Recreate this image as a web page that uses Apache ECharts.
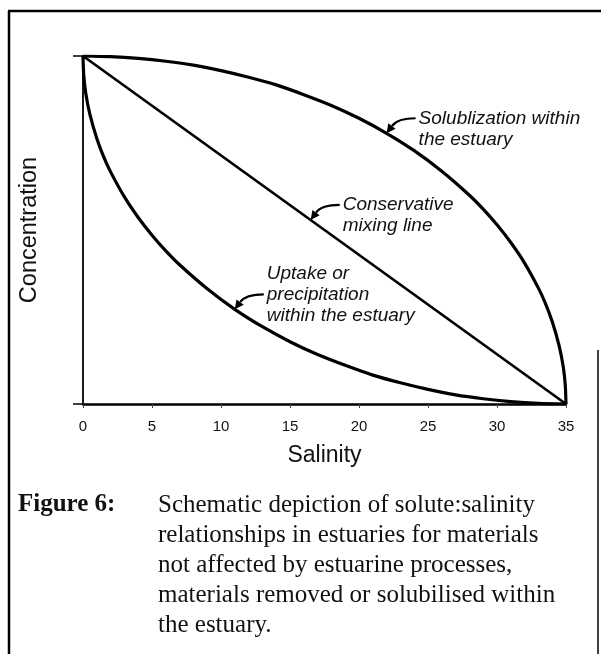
<!DOCTYPE html>
<html>
<head>
<meta charset="utf-8">
<script src="https://cdn.jsdelivr.net/npm/echarts@6/dist/echarts.min.js"></script>
<style>
  html, body { margin: 0; padding: 0; background: #fff; }
  #chart { width: 601px; height: 654px; }
</style>
</head>
<body>
<div id="chart"></div>
<script>
// salinity axis
const salinityMin = 0;
const salinityMax = 35;
const salinityStep = 5;

// conservative mixing line: river end member -> sea end member
const mixingSalinity = [0, 35];
const mixingConc = [100, 0];

// solubilization within the estuary (curve above the mixing line)
const upperSalinity = [0, 2, 4, 6, 8, 10, 12, 14, 16, 18, 20, 22, 24, 26, 28, 29, 30, 31, 32, 33, 33.5, 34, 34.5, 34.8, 34.95, 35];
const upperConc = [100, 99.8, 99.3, 98.5, 97.4, 95.8, 93.9, 91.7, 88.9, 85.8, 82.1, 77.8, 72.8, 66.9, 60.0, 56.0, 51.5, 46.4, 40.5, 33.3, 29.0, 23.7, 16.8, 10.7, 5.3, 0];

// uptake or precipitation within the estuary (curve below the mixing line)
const lowerSalinity = [0, 0.05, 0.2, 0.5, 1, 1.5, 2, 3, 4, 5, 6, 7, 9, 11, 13, 15, 17, 19, 21, 23, 25, 27, 29, 31, 33, 35];
const lowerConc = [100, 94.7, 89.3, 83.2, 76.3, 71.0, 66.7, 59.5, 53.6, 48.5, 44.0, 40.0, 33.1, 27.2, 22.2, 17.9, 14.2, 11.1, 8.3, 6.1, 4.2, 2.6, 1.5, 0.7, 0.2, 0];

// annotation texts
const upperNote = ['Solublization within', 'the estuary'];
const mixingNote = ['Conservative', 'mixing line'];
const lowerNote = ['Uptake or', 'precipitation', 'within the estuary'];

// caption
const captionLabel = 'Figure 6:';
const captionLines = [
  'Schematic depiction of solute:salinity',
  'relationships in estuaries for materials',
  'not affected by estuarine processes,',
  'materials removed or solubilised within',
  'the estuary.'
];

const pairs = (xs, ys) => xs.map((x, i) => [x, ys[i]]);

const chart = echarts.init(document.getElementById('chart'));

const curveSeries = (data, width) => ({
  type: 'line',
  data: data,
  smooth: 0.2,
  symbol: 'none',
  silent: true,
  lineStyle: { color: '#000', width: width }
});

chart.setOption({
  animation: false,
  backgroundColor: '#fff',
  grid: { left: 83, right: 35, top: 56, bottom: 250 },
  xAxis: {
    type: 'value',
    min: salinityMin,
    max: salinityMax,
    interval: salinityStep,
    name: 'Salinity',
    nameLocation: 'middle',
    nameGap: 40,
    nameTextStyle: { fontFamily: 'Liberation Sans', fontSize: 23, color: '#111' },
    axisLine: { lineStyle: { color: '#000', width: 2.5 } },
    axisTick: { show: true, length: 4, lineStyle: { color: '#444', width: 1 } },
    axisLabel: { fontFamily: 'Liberation Sans', fontSize: 15, color: '#111', margin: 15 },
    splitLine: { show: false }
  },
  yAxis: {
    type: 'value',
    min: 0,
    max: 100,
    interval: 100,
    name: 'Concentration',
    nameLocation: 'middle',
    nameGap: 41,
    nameTextStyle: { fontFamily: 'Liberation Sans', fontSize: 23.5, color: '#111' },
    axisLine: { show: true, lineStyle: { color: '#000', width: 1.8 } },
    axisTick: { show: true, length: 10, lineStyle: { color: '#000', width: 1.5 } },
    axisLabel: { show: false },
    splitLine: { show: false }
  },
  series: [
    curveSeries(pairs(upperSalinity, upperConc), 3.2),
    curveSeries(pairs(mixingSalinity, mixingConc), 2.7),
    curveSeries(pairs(lowerSalinity, lowerConc), 3.2)
  ]
});

// curved arrow from the text to a point on a curve, plus the text block
function note(lines, anchor, armLine) {
  const tip = chart.convertToPixel({ gridIndex: 0 }, anchor);
  const tail = [tip[0] + 29, tip[1] - 15];
  const cp = [tip[0] + 11, tail[1]];
  let dx = tip[0] - cp[0], dy = tip[1] - cp[1];
  const len = Math.sqrt(dx * dx + dy * dy);
  dx /= len; dy /= len;
  const base = [tip[0] - dx * 9, tip[1] - dy * 9];
  const nx = -dy, ny = dx;
  const lh = 21;
  return [
    {
      type: 'bezierCurve',
      shape: { x1: tail[0], y1: tail[1], cpx1: cp[0], cpy1: cp[1], x2: base[0], y2: base[1] },
      style: { stroke: '#000', lineWidth: 2.2, fill: null }
    },
    {
      type: 'polygon',
      shape: { points: [tip, [base[0] + nx * 4.5, base[1] + ny * 4.5], [base[0] - nx * 4.5, base[1] - ny * 4.5]] },
      style: { fill: '#000' }
    },
    {
      type: 'text',
      x: tail[0] + 3,
      y: tail[1] - armLine * lh - lh / 2,
      style: {
        text: lines.join('\n'),
        fontFamily: 'Liberation Sans',
        fontStyle: 'italic',
        fontSize: 19,
        lineHeight: lh,
        fill: '#111',
        verticalAlign: 'top'
      }
    }
  ];
}

const frame = [
  { type: 'line', shape: { x1: 9, y1: 11, x2: 9, y2: 654 }, style: { stroke: '#000', lineWidth: 2.5 } },
  { type: 'line', shape: { x1: 8, y1: 11, x2: 601, y2: 11 }, style: { stroke: '#000', lineWidth: 2.5 } },
  { type: 'line', shape: { x1: 598, y1: 350, x2: 598, y2: 654 }, style: { stroke: '#000', lineWidth: 1.5 } }
];

const caption = [
  {
    type: 'text', x: 18, y: 490,
    style: { text: captionLabel, fontFamily: 'Liberation Serif', fontWeight: 'bold', fontSize: 25, lineHeight: 30, fill: '#111', verticalAlign: 'top' }
  },
  {
    type: 'text', x: 158, y: 490,
    style: { text: captionLines.join('\n'), fontFamily: 'Liberation Serif', fontSize: 25, lineHeight: 30, fill: '#111', verticalAlign: 'top' }
  }
];

chart.setOption({
  graphic: [].concat(
    frame,
    note(upperNote, [upperSalinity[11], upperConc[11]], 0),
    note(mixingNote, [16.5, 52.9], 0),
    note(lowerNote, [lowerSalinity[13], lowerConc[13]], 1),
    caption
  )
});
</script>
</body>
</html>
